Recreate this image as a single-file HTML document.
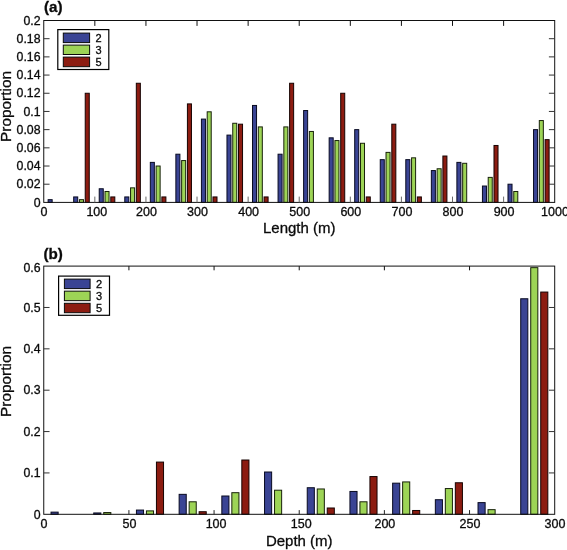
<!DOCTYPE html><html><head><meta charset="utf-8"><title>Histograms</title>
<style>html,body{margin:0;padding:0;background:#fff}svg{display:block}text{font-family:'Liberation Sans', sans-serif;fill:#0a0a0a;stroke:#0a0a0a;stroke-width:0.3px}</style></head><body>
<svg width="567" height="550" viewBox="0 0 567 550">
<rect width="567" height="550" fill="#fff"/>
<rect x="48.13" y="199.67" width="4.03" height="2.73" fill="#3A4494" stroke="#080a20" stroke-width="1.0"/>
<rect x="73.68" y="196.94" width="4.03" height="5.46" fill="#3A4494" stroke="#080a20" stroke-width="1.0"/>
<rect x="79.45" y="199.67" width="4.03" height="2.73" fill="#9DD456" stroke="#18220a" stroke-width="1.0"/>
<rect x="85.23" y="93.26" width="4.03" height="109.14" fill="#8C1C11" stroke="#160302" stroke-width="1.0"/>
<rect x="99.23" y="188.76" width="4.03" height="13.64" fill="#3A4494" stroke="#080a20" stroke-width="1.0"/>
<rect x="105.00" y="191.49" width="4.03" height="10.91" fill="#9DD456" stroke="#18220a" stroke-width="1.0"/>
<rect x="110.78" y="196.94" width="4.03" height="5.46" fill="#8C1C11" stroke="#160302" stroke-width="1.0"/>
<rect x="124.78" y="196.94" width="4.03" height="5.46" fill="#3A4494" stroke="#080a20" stroke-width="1.0"/>
<rect x="130.55" y="187.85" width="4.03" height="14.55" fill="#9DD456" stroke="#18220a" stroke-width="1.0"/>
<rect x="136.32" y="83.26" width="4.03" height="119.14" fill="#8C1C11" stroke="#160302" stroke-width="1.0"/>
<rect x="150.32" y="162.38" width="4.03" height="40.02" fill="#3A4494" stroke="#080a20" stroke-width="1.0"/>
<rect x="156.10" y="166.02" width="4.03" height="36.38" fill="#9DD456" stroke="#18220a" stroke-width="1.0"/>
<rect x="161.87" y="196.94" width="4.03" height="5.46" fill="#8C1C11" stroke="#160302" stroke-width="1.0"/>
<rect x="175.87" y="154.20" width="4.03" height="48.20" fill="#3A4494" stroke="#080a20" stroke-width="1.0"/>
<rect x="181.64" y="160.56" width="4.03" height="41.84" fill="#9DD456" stroke="#18220a" stroke-width="1.0"/>
<rect x="187.42" y="103.90" width="4.03" height="98.50" fill="#8C1C11" stroke="#160302" stroke-width="1.0"/>
<rect x="201.42" y="119.09" width="4.03" height="83.31" fill="#3A4494" stroke="#080a20" stroke-width="1.0"/>
<rect x="207.19" y="111.81" width="4.03" height="90.59" fill="#9DD456" stroke="#18220a" stroke-width="1.0"/>
<rect x="212.97" y="196.94" width="4.03" height="5.46" fill="#8C1C11" stroke="#160302" stroke-width="1.0"/>
<rect x="226.97" y="135.10" width="4.03" height="67.30" fill="#3A4494" stroke="#080a20" stroke-width="1.0"/>
<rect x="232.74" y="123.27" width="4.03" height="79.13" fill="#9DD456" stroke="#18220a" stroke-width="1.0"/>
<rect x="238.51" y="124.18" width="4.03" height="78.22" fill="#8C1C11" stroke="#160302" stroke-width="1.0"/>
<rect x="252.51" y="105.45" width="4.03" height="96.95" fill="#3A4494" stroke="#080a20" stroke-width="1.0"/>
<rect x="258.29" y="126.91" width="4.03" height="75.49" fill="#9DD456" stroke="#18220a" stroke-width="1.0"/>
<rect x="264.06" y="196.94" width="4.03" height="5.46" fill="#8C1C11" stroke="#160302" stroke-width="1.0"/>
<rect x="278.06" y="154.20" width="4.03" height="48.20" fill="#3A4494" stroke="#080a20" stroke-width="1.0"/>
<rect x="283.83" y="126.91" width="4.03" height="75.49" fill="#9DD456" stroke="#18220a" stroke-width="1.0"/>
<rect x="289.61" y="83.26" width="4.03" height="119.14" fill="#8C1C11" stroke="#160302" stroke-width="1.0"/>
<rect x="303.61" y="110.54" width="4.03" height="91.86" fill="#3A4494" stroke="#080a20" stroke-width="1.0"/>
<rect x="309.38" y="131.46" width="4.03" height="70.94" fill="#9DD456" stroke="#18220a" stroke-width="1.0"/>
<rect x="329.16" y="137.83" width="4.03" height="64.57" fill="#3A4494" stroke="#080a20" stroke-width="1.0"/>
<rect x="334.93" y="140.55" width="4.03" height="61.85" fill="#9DD456" stroke="#18220a" stroke-width="1.0"/>
<rect x="340.70" y="93.26" width="4.03" height="109.14" fill="#8C1C11" stroke="#160302" stroke-width="1.0"/>
<rect x="354.70" y="129.64" width="4.03" height="72.76" fill="#3A4494" stroke="#080a20" stroke-width="1.0"/>
<rect x="360.48" y="143.28" width="4.03" height="59.12" fill="#9DD456" stroke="#18220a" stroke-width="1.0"/>
<rect x="366.25" y="196.94" width="4.03" height="5.46" fill="#8C1C11" stroke="#160302" stroke-width="1.0"/>
<rect x="380.25" y="159.65" width="4.03" height="42.75" fill="#3A4494" stroke="#080a20" stroke-width="1.0"/>
<rect x="386.02" y="152.38" width="4.03" height="50.02" fill="#9DD456" stroke="#18220a" stroke-width="1.0"/>
<rect x="391.80" y="124.18" width="4.03" height="78.22" fill="#8C1C11" stroke="#160302" stroke-width="1.0"/>
<rect x="405.80" y="159.65" width="4.03" height="42.75" fill="#3A4494" stroke="#080a20" stroke-width="1.0"/>
<rect x="411.57" y="157.83" width="4.03" height="44.57" fill="#9DD456" stroke="#18220a" stroke-width="1.0"/>
<rect x="417.35" y="196.94" width="4.03" height="5.46" fill="#8C1C11" stroke="#160302" stroke-width="1.0"/>
<rect x="431.35" y="170.57" width="4.03" height="31.83" fill="#3A4494" stroke="#080a20" stroke-width="1.0"/>
<rect x="437.12" y="168.75" width="4.03" height="33.65" fill="#9DD456" stroke="#18220a" stroke-width="1.0"/>
<rect x="442.89" y="156.02" width="4.03" height="46.38" fill="#8C1C11" stroke="#160302" stroke-width="1.0"/>
<rect x="456.89" y="162.38" width="4.03" height="40.02" fill="#3A4494" stroke="#080a20" stroke-width="1.0"/>
<rect x="462.67" y="163.29" width="4.03" height="39.11" fill="#9DD456" stroke="#18220a" stroke-width="1.0"/>
<rect x="482.44" y="186.03" width="4.03" height="16.37" fill="#3A4494" stroke="#080a20" stroke-width="1.0"/>
<rect x="488.21" y="177.39" width="4.03" height="25.01" fill="#9DD456" stroke="#18220a" stroke-width="1.0"/>
<rect x="493.99" y="145.47" width="4.03" height="56.93" fill="#8C1C11" stroke="#160302" stroke-width="1.0"/>
<rect x="507.99" y="184.21" width="4.03" height="18.19" fill="#3A4494" stroke="#080a20" stroke-width="1.0"/>
<rect x="513.76" y="191.49" width="4.03" height="10.91" fill="#9DD456" stroke="#18220a" stroke-width="1.0"/>
<rect x="533.54" y="129.64" width="4.03" height="72.76" fill="#3A4494" stroke="#080a20" stroke-width="1.0"/>
<rect x="539.31" y="120.55" width="4.03" height="81.86" fill="#9DD456" stroke="#18220a" stroke-width="1.0"/>
<rect x="545.08" y="139.64" width="4.03" height="62.76" fill="#8C1C11" stroke="#160302" stroke-width="1.0"/>
<rect x="43.75" y="20.5" width="510.95000000000005" height="181.9" fill="none" stroke="#111" stroke-width="1"/>
<text x="44.05" y="215.60" font-size="12.5" text-anchor="middle">0</text>
<line x1="94.84" y1="202.4" x2="94.84" y2="196.6" stroke="#6a6a6a" stroke-width="1"/>
<line x1="94.84" y1="20.5" x2="94.84" y2="25.9" stroke="#111" stroke-width="1"/>
<text x="96.84" y="215.60" font-size="12.5" text-anchor="middle">100</text>
<line x1="145.94" y1="202.4" x2="145.94" y2="196.6" stroke="#6a6a6a" stroke-width="1"/>
<line x1="145.94" y1="20.5" x2="145.94" y2="25.9" stroke="#111" stroke-width="1"/>
<text x="146.44" y="215.60" font-size="12.5" text-anchor="middle">200</text>
<line x1="197.03" y1="202.4" x2="197.03" y2="196.6" stroke="#6a6a6a" stroke-width="1"/>
<line x1="197.03" y1="20.5" x2="197.03" y2="25.9" stroke="#111" stroke-width="1"/>
<text x="197.53" y="216.40" font-size="12.5" text-anchor="middle">300</text>
<line x1="248.13" y1="202.4" x2="248.13" y2="196.6" stroke="#6a6a6a" stroke-width="1"/>
<line x1="248.13" y1="20.5" x2="248.13" y2="25.9" stroke="#111" stroke-width="1"/>
<text x="248.63" y="215.60" font-size="12.5" text-anchor="middle">400</text>
<line x1="299.23" y1="202.4" x2="299.23" y2="196.6" stroke="#6a6a6a" stroke-width="1"/>
<line x1="299.23" y1="20.5" x2="299.23" y2="25.9" stroke="#111" stroke-width="1"/>
<text x="299.73" y="215.60" font-size="12.5" text-anchor="middle">500</text>
<line x1="350.32" y1="202.4" x2="350.32" y2="196.6" stroke="#6a6a6a" stroke-width="1"/>
<line x1="350.32" y1="20.5" x2="350.32" y2="25.9" stroke="#111" stroke-width="1"/>
<text x="350.82" y="216.40" font-size="12.5" text-anchor="middle">600</text>
<line x1="401.42" y1="202.4" x2="401.42" y2="196.6" stroke="#6a6a6a" stroke-width="1"/>
<line x1="401.42" y1="20.5" x2="401.42" y2="25.9" stroke="#111" stroke-width="1"/>
<text x="401.92" y="215.60" font-size="12.5" text-anchor="middle">700</text>
<line x1="452.51" y1="202.4" x2="452.51" y2="196.6" stroke="#6a6a6a" stroke-width="1"/>
<line x1="452.51" y1="20.5" x2="452.51" y2="25.9" stroke="#111" stroke-width="1"/>
<text x="453.01" y="215.60" font-size="12.5" text-anchor="middle">800</text>
<line x1="503.61" y1="202.4" x2="503.61" y2="196.6" stroke="#6a6a6a" stroke-width="1"/>
<line x1="503.61" y1="20.5" x2="503.61" y2="25.9" stroke="#111" stroke-width="1"/>
<text x="504.11" y="216.40" font-size="12.5" text-anchor="middle">900</text>
<text x="555.00" y="215.60" font-size="12.5" text-anchor="middle">1000</text>
<text x="40.55" y="206.60" font-size="12.3" text-anchor="end">0</text>
<line x1="43.75" y1="184.21" x2="49.55" y2="184.21" stroke="#333" stroke-width="1"/>
<line x1="554.7" y1="184.21" x2="548.9000000000001" y2="184.21" stroke="#333" stroke-width="1"/>
<text x="40.55" y="188.41" font-size="12.3" text-anchor="end">0.02</text>
<line x1="43.75" y1="166.02" x2="49.55" y2="166.02" stroke="#333" stroke-width="1"/>
<line x1="554.7" y1="166.02" x2="548.9000000000001" y2="166.02" stroke="#333" stroke-width="1"/>
<text x="40.55" y="170.22" font-size="12.3" text-anchor="end">0.04</text>
<line x1="43.75" y1="147.83" x2="49.55" y2="147.83" stroke="#333" stroke-width="1"/>
<line x1="554.7" y1="147.83" x2="548.9000000000001" y2="147.83" stroke="#333" stroke-width="1"/>
<text x="40.55" y="152.03" font-size="12.3" text-anchor="end">0.06</text>
<line x1="43.75" y1="129.64" x2="49.55" y2="129.64" stroke="#333" stroke-width="1"/>
<line x1="554.7" y1="129.64" x2="548.9000000000001" y2="129.64" stroke="#333" stroke-width="1"/>
<text x="40.55" y="133.84" font-size="12.3" text-anchor="end">0.08</text>
<line x1="43.75" y1="111.45" x2="49.55" y2="111.45" stroke="#333" stroke-width="1"/>
<line x1="554.7" y1="111.45" x2="548.9000000000001" y2="111.45" stroke="#333" stroke-width="1"/>
<text x="40.55" y="115.65" font-size="12.3" text-anchor="end">0.1</text>
<line x1="43.75" y1="93.26" x2="49.55" y2="93.26" stroke="#333" stroke-width="1"/>
<line x1="554.7" y1="93.26" x2="548.9000000000001" y2="93.26" stroke="#333" stroke-width="1"/>
<text x="40.55" y="97.46" font-size="12.3" text-anchor="end">0.12</text>
<line x1="43.75" y1="75.07" x2="49.55" y2="75.07" stroke="#333" stroke-width="1"/>
<line x1="554.7" y1="75.07" x2="548.9000000000001" y2="75.07" stroke="#333" stroke-width="1"/>
<text x="40.55" y="79.27" font-size="12.3" text-anchor="end">0.14</text>
<line x1="43.75" y1="56.88" x2="49.55" y2="56.88" stroke="#333" stroke-width="1"/>
<line x1="554.7" y1="56.88" x2="548.9000000000001" y2="56.88" stroke="#333" stroke-width="1"/>
<text x="40.55" y="61.08" font-size="12.3" text-anchor="end">0.16</text>
<line x1="43.75" y1="38.69" x2="49.55" y2="38.69" stroke="#333" stroke-width="1"/>
<line x1="554.7" y1="38.69" x2="548.9000000000001" y2="38.69" stroke="#333" stroke-width="1"/>
<text x="40.55" y="42.89" font-size="12.3" text-anchor="end">0.18</text>
<text x="40.55" y="24.70" font-size="12.3" text-anchor="end">0.2</text>
<text x="299.23" y="233" font-size="15" text-anchor="middle">Length (m)</text>
<text transform="translate(11.2,106.5) rotate(-90)" font-size="15.4" text-anchor="middle">Proportion</text>
<text x="44" y="12" font-size="15.2" font-weight="bold" stroke-width="0.15">(a)</text>
<rect x="57.8" y="29.6" width="51.0" height="39.9" fill="#fff" stroke="#000" stroke-width="1.2"/>
<rect x="63.3" y="33.1" width="26.299999999999997" height="9.5" fill="#3A4494" stroke="#0a0a0a" stroke-width="1"/>
<text x="95.6" y="42.05" font-size="11">2</text>
<rect x="63.3" y="45.1" width="26.299999999999997" height="9.399999999999999" fill="#9DD456" stroke="#0a0a0a" stroke-width="1"/>
<text x="95.6" y="54.00" font-size="11">3</text>
<rect x="63.3" y="57.1" width="26.299999999999997" height="9.600000000000001" fill="#8C1C11" stroke="#0a0a0a" stroke-width="1"/>
<text x="95.6" y="66.10" font-size="11">5</text>
<rect x="51.04" y="512.13" width="7.10" height="2.17" fill="#3A4494" stroke="#080a20" stroke-width="1.0"/>
<rect x="93.74" y="512.96" width="7.10" height="1.34" fill="#3A4494" stroke="#080a20" stroke-width="1.0"/>
<rect x="103.74" y="512.55" width="7.10" height="1.75" fill="#9DD456" stroke="#18220a" stroke-width="1.0"/>
<rect x="136.44" y="510.06" width="7.10" height="4.24" fill="#3A4494" stroke="#080a20" stroke-width="1.0"/>
<rect x="146.44" y="510.89" width="7.10" height="3.41" fill="#9DD456" stroke="#18220a" stroke-width="1.0"/>
<rect x="156.44" y="462.08" width="7.10" height="52.22" fill="#8C1C11" stroke="#160302" stroke-width="1.0"/>
<rect x="179.14" y="494.34" width="7.10" height="19.96" fill="#3A4494" stroke="#080a20" stroke-width="1.0"/>
<rect x="189.14" y="501.79" width="7.10" height="12.51" fill="#9DD456" stroke="#18220a" stroke-width="1.0"/>
<rect x="199.14" y="511.72" width="7.10" height="2.58" fill="#8C1C11" stroke="#160302" stroke-width="1.0"/>
<rect x="221.84" y="496.00" width="7.10" height="18.30" fill="#3A4494" stroke="#080a20" stroke-width="1.0"/>
<rect x="231.84" y="492.69" width="7.10" height="21.61" fill="#9DD456" stroke="#18220a" stroke-width="1.0"/>
<rect x="241.83" y="460.01" width="7.10" height="54.29" fill="#8C1C11" stroke="#160302" stroke-width="1.0"/>
<rect x="264.54" y="472.01" width="7.10" height="42.29" fill="#3A4494" stroke="#080a20" stroke-width="1.0"/>
<rect x="274.54" y="490.21" width="7.10" height="24.09" fill="#9DD456" stroke="#18220a" stroke-width="1.0"/>
<rect x="307.24" y="487.73" width="7.10" height="26.57" fill="#3A4494" stroke="#080a20" stroke-width="1.0"/>
<rect x="317.24" y="488.97" width="7.10" height="25.33" fill="#9DD456" stroke="#18220a" stroke-width="1.0"/>
<rect x="327.23" y="507.99" width="7.10" height="6.30" fill="#8C1C11" stroke="#160302" stroke-width="1.0"/>
<rect x="349.94" y="491.45" width="7.10" height="22.85" fill="#3A4494" stroke="#080a20" stroke-width="1.0"/>
<rect x="359.93" y="501.79" width="7.10" height="12.51" fill="#9DD456" stroke="#18220a" stroke-width="1.0"/>
<rect x="369.93" y="476.56" width="7.10" height="37.74" fill="#8C1C11" stroke="#160302" stroke-width="1.0"/>
<rect x="392.64" y="483.17" width="7.10" height="31.12" fill="#3A4494" stroke="#080a20" stroke-width="1.0"/>
<rect x="402.63" y="481.93" width="7.10" height="32.37" fill="#9DD456" stroke="#18220a" stroke-width="1.0"/>
<rect x="412.63" y="510.48" width="7.10" height="3.82" fill="#8C1C11" stroke="#160302" stroke-width="1.0"/>
<rect x="435.34" y="499.72" width="7.10" height="14.58" fill="#3A4494" stroke="#080a20" stroke-width="1.0"/>
<rect x="445.33" y="488.55" width="7.10" height="25.75" fill="#9DD456" stroke="#18220a" stroke-width="1.0"/>
<rect x="455.33" y="482.76" width="7.10" height="31.54" fill="#8C1C11" stroke="#160302" stroke-width="1.0"/>
<rect x="478.03" y="502.62" width="7.10" height="11.68" fill="#3A4494" stroke="#080a20" stroke-width="1.0"/>
<rect x="488.03" y="509.65" width="7.10" height="4.65" fill="#9DD456" stroke="#18220a" stroke-width="1.0"/>
<rect x="520.73" y="298.76" width="7.10" height="215.54" fill="#3A4494" stroke="#080a20" stroke-width="1.0"/>
<rect x="530.73" y="267.65" width="7.10" height="246.65" fill="#9DD456" stroke="#18220a" stroke-width="1.0"/>
<rect x="540.73" y="292.06" width="7.10" height="222.24" fill="#8C1C11" stroke="#160302" stroke-width="1.0"/>
<rect x="43.75" y="266.1" width="510.95000000000005" height="248.19999999999993" fill="none" stroke="#111" stroke-width="1"/>
<text x="44.05" y="527.50" font-size="12.5" text-anchor="middle">0</text>
<line x1="128.91" y1="514.3" x2="128.91" y2="510.09999999999997" stroke="#222" stroke-width="1"/>
<line x1="128.91" y1="266.1" x2="128.91" y2="270.3" stroke="#111" stroke-width="1"/>
<text x="129.41" y="527.50" font-size="12.5" text-anchor="middle">50</text>
<line x1="214.07" y1="514.3" x2="214.07" y2="510.09999999999997" stroke="#222" stroke-width="1"/>
<line x1="214.07" y1="266.1" x2="214.07" y2="270.3" stroke="#111" stroke-width="1"/>
<text x="216.07" y="527.50" font-size="12.5" text-anchor="middle">100</text>
<line x1="299.23" y1="514.3" x2="299.23" y2="510.09999999999997" stroke="#222" stroke-width="1"/>
<line x1="299.23" y1="266.1" x2="299.23" y2="270.3" stroke="#111" stroke-width="1"/>
<text x="301.23" y="527.50" font-size="12.5" text-anchor="middle">150</text>
<line x1="384.38" y1="514.3" x2="384.38" y2="510.09999999999997" stroke="#222" stroke-width="1"/>
<line x1="384.38" y1="266.1" x2="384.38" y2="270.3" stroke="#111" stroke-width="1"/>
<text x="384.88" y="527.50" font-size="12.5" text-anchor="middle">200</text>
<line x1="469.54" y1="514.3" x2="469.54" y2="510.09999999999997" stroke="#222" stroke-width="1"/>
<line x1="469.54" y1="266.1" x2="469.54" y2="270.3" stroke="#111" stroke-width="1"/>
<text x="470.04" y="527.50" font-size="12.5" text-anchor="middle">250</text>
<text x="555.00" y="527.50" font-size="12.5" text-anchor="middle">300</text>
<text x="40.55" y="518.50" font-size="12.3" text-anchor="end">0</text>
<line x1="43.75" y1="472.93" x2="49.55" y2="472.93" stroke="#333" stroke-width="1"/>
<line x1="554.7" y1="472.93" x2="548.9000000000001" y2="472.93" stroke="#333" stroke-width="1"/>
<text x="40.55" y="477.13" font-size="12.3" text-anchor="end">0.1</text>
<line x1="43.75" y1="431.57" x2="49.55" y2="431.57" stroke="#333" stroke-width="1"/>
<line x1="554.7" y1="431.57" x2="548.9000000000001" y2="431.57" stroke="#333" stroke-width="1"/>
<text x="40.55" y="435.77" font-size="12.3" text-anchor="end">0.2</text>
<line x1="43.75" y1="390.20" x2="49.55" y2="390.20" stroke="#333" stroke-width="1"/>
<line x1="554.7" y1="390.20" x2="548.9000000000001" y2="390.20" stroke="#333" stroke-width="1"/>
<text x="40.55" y="394.40" font-size="12.3" text-anchor="end">0.3</text>
<line x1="43.75" y1="348.83" x2="49.55" y2="348.83" stroke="#333" stroke-width="1"/>
<line x1="554.7" y1="348.83" x2="548.9000000000001" y2="348.83" stroke="#333" stroke-width="1"/>
<text x="40.55" y="353.03" font-size="12.3" text-anchor="end">0.4</text>
<line x1="43.75" y1="307.47" x2="49.55" y2="307.47" stroke="#333" stroke-width="1"/>
<line x1="554.7" y1="307.47" x2="548.9000000000001" y2="307.47" stroke="#333" stroke-width="1"/>
<text x="40.55" y="311.67" font-size="12.3" text-anchor="end">0.5</text>
<text x="40.55" y="271.50" font-size="12.3" text-anchor="end">0.6</text>
<text x="299.23" y="546" font-size="15" text-anchor="middle">Depth (m)</text>
<text transform="translate(11.2,381.5) rotate(-90)" font-size="15.4" text-anchor="middle">Proportion</text>
<text x="43.4" y="259.0" font-size="15.2" font-weight="bold" stroke-width="0.15">(b)</text>
<rect x="58.6" y="276.1" width="50.9" height="39.19999999999999" fill="#fff" stroke="#000" stroke-width="1.2"/>
<rect x="64.4" y="279.1" width="25.69999999999999" height="9.5" fill="#3A4494" stroke="#0a0a0a" stroke-width="1"/>
<text x="96" y="288.15" font-size="11">2</text>
<rect x="64.4" y="291.15" width="25.69999999999999" height="9.5" fill="#9DD456" stroke="#0a0a0a" stroke-width="1"/>
<text x="96" y="300.20" font-size="11">3</text>
<rect x="64.4" y="303.3" width="25.69999999999999" height="9.399999999999977" fill="#8C1C11" stroke="#0a0a0a" stroke-width="1"/>
<text x="96" y="312.30" font-size="11">5</text>
</svg></body></html>
